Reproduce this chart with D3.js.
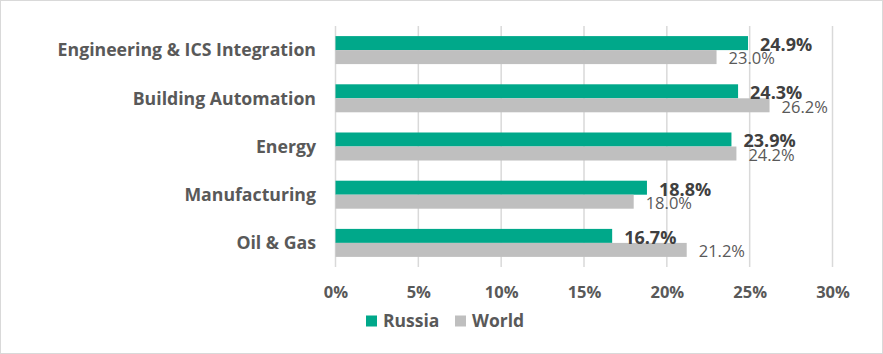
<!DOCTYPE html>
<html><head><meta charset="utf-8">
<script src="https://cdn.jsdelivr.net/npm/d3@7"></script>
<style>
html,body{margin:0;padding:0;background:#fff;}
svg{display:block;font-family:"Open Sans",sans-serif;}
</style></head>
<body>
<script>
const categories = ["Engineering & ICS Integration","Building Automation","Energy","Manufacturing","Oil & Gas"];
const seriesNames = ["Russia","World"];
const russia = [24.9, 24.3, 23.9, 18.8, 16.7];
const world = [23.0, 26.2, 24.2, 18.0, 21.2];
const tickValues = [0,5,10,15,20,25,30];
const colors = {Russia:"#00A88A", World:"#BFBFBF"};

const W = 883, H = 354;
const FONT = "'Open Sans',sans-serif";
const svg = d3.select("body").append("svg").attr("width",W).attr("height",H);
svg.append("rect").attr("x",0.5).attr("y",0.5).attr("width",W-1).attr("height",H-1)
  .attr("fill","#fff").attr("stroke","#D9D9D9").attr("stroke-width",1);

const x = d3.scaleLinear().domain([0,30]).range([335.5,832.5]);
const y0 = d3.scaleBand().domain(categories).range([26,267]).paddingInner(0.419).paddingOuter(0.2095);
const y1 = d3.scaleBand().domain(seriesNames).range([0,y0.bandwidth()]);

// gridlines
svg.append("g").selectAll("line").data(tickValues).join("line")
  .attr("x1",d=>x(d)).attr("x2",d=>x(d)).attr("y1",26).attr("y2",267)
  .attr("stroke","#D9D9D9").attr("stroke-width",1.5);

// x axis tick labels
const xAxis = d3.axisBottom(x).tickValues(tickValues).tickSize(0).tickPadding(0).tickFormat(d=>d+"%");
const gx = svg.append("g").attr("transform","translate(0,292)").call(xAxis);
gx.select(".domain").remove();
gx.selectAll("text").attr("fill","#595959").attr("font-size",16.5).attr("font-weight","bold")
  .attr("font-family",FONT).attr("dy","0.35em").attr("y",0);

// category labels
const yAxis = d3.axisLeft(y0).tickSize(0).tickPadding(0);
const gy = svg.append("g").attr("transform","translate(316,0)").call(yAxis);
gy.select(".domain").remove();
gy.selectAll("text").attr("fill","#595959").attr("font-size",17.7).attr("font-weight","bold")
  .attr("font-family",FONT).attr("dy","0.35em");

const data = categories.map((c,i)=>({cat:c, vals:[{s:"Russia",v:russia[i]},{s:"World",v:world[i]}]}));
const groups = svg.append("g").selectAll("g").data(data).join("g")
  .attr("transform",d=>`translate(0,${y0(d.cat)})`);
groups.selectAll("rect").data(d=>d.vals).join("rect")
  .attr("x",x(0)).attr("y",d=>y1(d.s)).attr("width",d=>x(d.v)-x(0)).attr("height",y1.bandwidth())
  .attr("fill",d=>colors[d.s]);

groups.selectAll("text").data(d=>d.vals).join("text")
  .attr("x",d=>x(d.v)+12)
  .attr("y",d=>y1(d.s)+y1.bandwidth()/2+1.5)
  .attr("dy","0.35em")
  .attr("font-family",FONT)
  .attr("font-size",d=>d.s==="Russia"?18:16.5)
  .attr("font-weight",d=>d.s==="Russia"?"bold":"normal")
  .attr("fill",d=>d.s==="Russia"?"#404040":"#595959")
  .text(d=>d.v.toFixed(1)+"%");

// legend
const legend = svg.append("g");
const legX = [366, 455];
seriesNames.forEach((s,i)=>{
  legend.append("rect").attr("x",legX[i]).attr("y",315.5).attr("width",11).attr("height",11).attr("fill",colors[s]);
  legend.append("text").attr("x",legX[i]+17).attr("y",321).attr("dy","0.35em")
    .attr("font-family",FONT)
    .attr("font-size",17.5).attr("font-weight","bold").attr("fill","#595959").text(s);
});
</script>
</body></html>
